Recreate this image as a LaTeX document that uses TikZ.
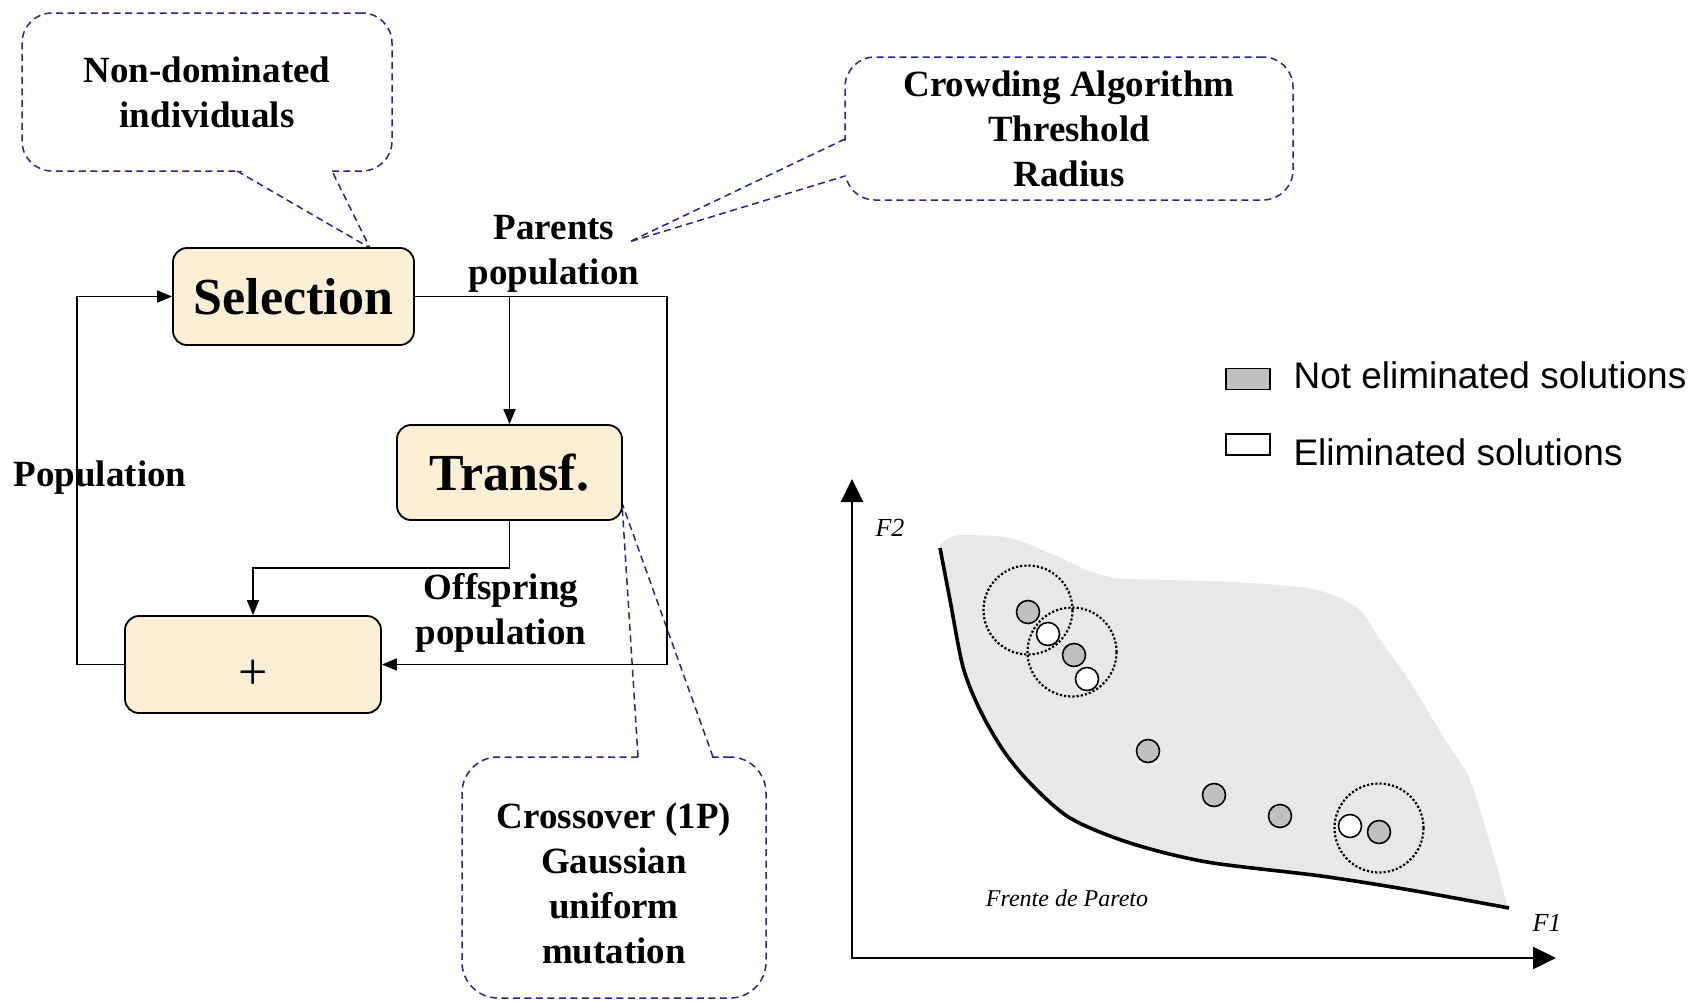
\documentclass[tikz,border=0pt]{standalone}
\usepackage{fontspec}
\setmainfont{Liberation Serif}
\setsansfont{Liberation Sans}
\usetikzlibrary{arrows.meta}
\definecolor{boxfill}{RGB}{251,239,214}
\definecolor{calloutblue}{RGB}{35,35,155}
\definecolor{regiongray}{RGB}{232,232,232}
\definecolor{solgray}{RGB}{192,192,192}
\tikzset{
  flowbox/.style={draw, line width=1.8pt, fill=boxfill, rounded corners=14pt, inner sep=0pt,
    font=\bfseries\fontsize{52}{60}\selectfont},
  flow/.style={line width=1.8pt, -{Triangle[length=15pt,width=12pt]}},
  balloon/.style={draw=calloutblue, line width=1.5pt, dash pattern=on 7pt off 4.5pt,
    rounded corners=30pt, align=center, inner sep=0pt, font=\bfseries\fontsize{37}{45}\selectfont},
  tail/.style={draw=calloutblue, line width=1.5pt, dash pattern=on 7pt off 4.5pt},
  flowlabel/.style={align=center, font=\bfseries\fontsize{37}{45}\selectfont},
  axis/.style={line width=2.4pt, {Triangle[length=23pt,width=22pt]}-{Triangle[length=23pt,width=22pt]}},
  axislabel/.style={font=\itshape\fontsize{26}{30}\selectfont},
  kept/.style={circle, draw, line width=1.6pt, fill=solgray, minimum size=23pt, inner sep=0pt},
  dropped/.style={kept, fill=white},
  niche/.style={circle, draw, line width=2.2pt, dotted, minimum size=89pt, inner sep=0pt},
  legendbox/.style={draw, line width=1.8pt, minimum width=44pt, minimum height=21pt, inner sep=0pt},
  legendtext/.style={anchor=west, font=\sffamily\fontsize{37}{44}\selectfont},
}
\begin{document}
\begin{tikzpicture}[x=1pt,y=-1pt]
\useasboundingbox (0,0) rectangle (1707,1001);

% callouts
\node[balloon, minimum width=370pt, minimum height=158pt] (nondom) at (207,92) {Non-dominated\\individuals};
\fill[white] (238,169) -- (370,248) -- (331,169) -- cycle;
\draw[tail] (237,171) -- (370,248) -- (332,171);

\node[balloon, minimum width=448pt, minimum height=143pt] (crowd) at (1069,128.5) {Crowding Algorithm\\Threshold\\Radius};
\fill[white] (847,140) -- (629,242) -- (847,175) -- cycle;
\draw[tail] (845,139) -- (629,242) -- (845,176);

\node[balloon, minimum width=304pt, minimum height=241pt, rounded corners=36pt] (cross) at (614,877.5) {};
\node[flowlabel] (crosstxt) at (614,883) {Crossover (1P)\\Gaussian\\uniform\\mutation};
\fill[white] (639,759) -- (622,503) -- (712,759) -- cycle;
\draw[tail] (638,757) -- (622,503) -- (713,757);

% flow
\node[flowbox, minimum width=241pt, minimum height=97pt] (sel) at (293.5,296.5) {Selection};
\node[flowbox, minimum width=225pt, minimum height=95pt] (trans) at (509.5,472.5) {Transf.};
\node[flowbox, minimum width=256pt, minimum height=97pt, text height=52pt, text depth=2pt,
  font=\fontsize{52}{60}\selectfont] (plus) at (253,664.5) {+};

\coordinate (lft) at (77,480);
\coordinate (rgt) at (667,480);
\coordinate (jn) at (381,568);
\draw[flow] (plus.west) -| (lft) |- (sel.west);
\draw[flow] (sel.east) -| (rgt) |- (plus.east);
\draw[flow] (sel.east -| trans.north) -- (trans.north);
\draw[flow] (trans.south) |- (jn) -| (plus.north);

\node[flowlabel] (parents) at (554,254) {Parents\\population};
\node[flowlabel] (offspring) at (501,613) {Offspring\\population};
\node[flowlabel] (popl) at (100,478) {Population};

% objective space
\fill[regiongray] plot[smooth] coordinates {(940,545) (950,537) (967,535) (1010,538) (1050,553) (1087,570) (1117,578) (1167,580) (1233,582) (1300,587) (1333,595) (1360,610) (1380,640) (1400,667) (1417,693) (1433,720) (1450,747) (1467,773) (1477,800) (1487,833) (1497,867) (1508,908)}
  -- plot[smooth] coordinates {(1509,908) (1410,890) (1321,876) (1207,862) (1130,843) (1070,818) (1030,783) (1003,750) (980,710) (963,667) (950,600) (940,548)} -- cycle;
\draw[line width=3.6pt] plot[smooth] coordinates {(940,548) (950,600) (963,667) (980,710) (1003,750) (1030,783) (1070,818) (1130,843) (1207,862) (1321,876) (1410,890) (1509,908)};

\coordinate (orig) at (852,958);
\coordinate (ytop) at (852,479);
\coordinate (xend) at (1556,958);
\draw[axis] (ytop) -- (orig) -- (xend);
\node[axislabel] (f2) at (890,528) {F2};
\node[axislabel] (f1) at (1547,923) {F1};
\node[axislabel, font=\itshape\fontsize{24}{28}\selectfont] (front) at (1067,898) {Frente de Pareto};

\node[niche] (nicheA) at (1028,610) {};
\node[niche] (nicheB) at (1072,652) {};
\node[niche] (nicheC) at (1379,828) {};
\node[kept] (s1) at (1028,612) {};
\node[dropped] (s2) at (1048,634) {};
\node[kept] (s3) at (1074,655) {};
\node[dropped] (s4) at (1087,679) {};
\node[kept] (s5) at (1148,751) {};
\node[kept] (s6) at (1214,795) {};
\node[kept] (s7) at (1280,816) {};
\node[dropped] (s8) at (1350,826) {};
\node[kept] (s9) at (1379,832) {};

% legend
\node[legendbox, fill=solgray] (keysw) at (1248,379) {};
\node[legendbox, fill=white] (dropsw) at (1248,444.5) {};
\node[legendtext] (keytxt) at (1290,375) {Not eliminated solutions};
\node[legendtext] (droptxt) at (1290,452) {Eliminated solutions};
\end{tikzpicture}
\end{document}
